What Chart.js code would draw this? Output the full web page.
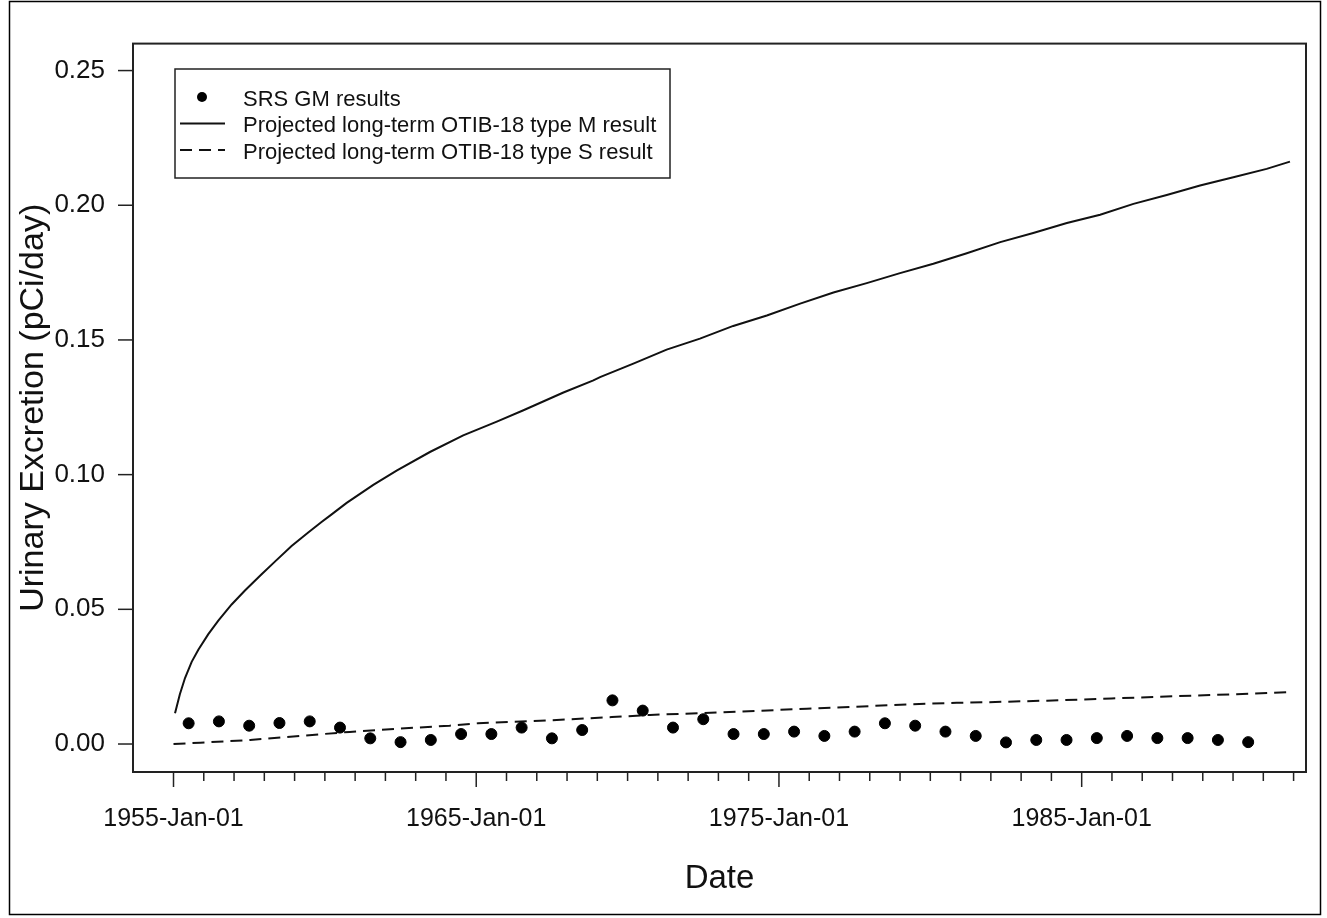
<!DOCTYPE html>
<html>
<head>
<meta charset="utf-8">
<title>Urinary Excretion</title>
<script src="https://cdn.jsdelivr.net/npm/chart.js@4.4.1/dist/chart.umd.min.js"></script>
<style>
  html, body { margin: 0; padding: 0; background: #fff; }
</style>
</head>
<body>
<canvas id="urineChart" width="1327" height="918"></canvas>
<script>
// SRS GM results, one per year (mid-year)
var gmYears = [1955.5, 1956.5, 1957.5, 1958.5, 1959.5, 1960.5, 1961.5, 1962.5, 1963.5, 1964.5,
               1965.5, 1966.5, 1967.5, 1968.5, 1969.5, 1970.5, 1971.5, 1972.5, 1973.5, 1974.5,
               1975.5, 1976.5, 1977.5, 1978.5, 1979.5, 1980.5, 1981.5, 1982.5, 1983.5, 1984.5,
               1985.5, 1986.5, 1987.5, 1988.5, 1989.5, 1990.5];
var gmValues = [0.0077, 0.0084, 0.0068, 0.0078, 0.0084, 0.0061, 0.0021, 0.0007, 0.0015, 0.0037,
                0.0037, 0.0061, 0.0021, 0.0052, 0.0162, 0.0124, 0.0061, 0.0092, 0.0037, 0.0037,
                0.0046, 0.0030, 0.0046, 0.0077, 0.0068, 0.0046, 0.0030, 0.0006, 0.0015, 0.0015,
                0.0022, 0.0030, 0.0022, 0.0022, 0.0015, 0.0007];

// projected type M curve
var typeMYears = [1955.05, 1955.21, 1955.38, 1955.60, 1955.82, 1956.15, 1956.48, 1956.92, 1957.36, 1957.91,
                  1958.35, 1958.90, 1959.45, 1959.90, 1960.17, 1960.72, 1961.60, 1962.37, 1963.47, 1964.57,
                  1965.68, 1966.56, 1967.88, 1968.87, 1969.09, 1970.19, 1971.29, 1972.39, 1973.49, 1974.60,
                  1975.70, 1976.80, 1977.90, 1979.00, 1980.10, 1981.18, 1982.31, 1983.40, 1984.51, 1985.61,
                  1986.71, 1987.81, 1988.91, 1990.01, 1991.11, 1991.88];
var typeMValues = [0.0114, 0.0185, 0.0245, 0.0305, 0.0350, 0.0408, 0.0458, 0.0518, 0.0570, 0.0630,
                   0.0677, 0.0735, 0.0785, 0.0825, 0.0848, 0.0895, 0.0962, 0.1015, 0.1084, 0.1146,
                   0.1197, 0.1239, 0.1305, 0.1350, 0.1362, 0.1412, 0.1464, 0.1505, 0.1552, 0.1591,
                   0.1635, 0.1676, 0.1711, 0.1748, 0.1783, 0.1821, 0.1863, 0.1897, 0.1934, 0.1965,
                   0.2005, 0.2038, 0.2073, 0.2104, 0.2135, 0.2162];

// projected type S curve
var typeSYears = [1955.00, 1955.88, 1957.53, 1959.17, 1960.82, 1962.47, 1964.12, 1965.06, 1967.11, 1969.48,
                  1970.74, 1973.05, 1974.27, 1975.92, 1977.45, 1979.22, 1980.87, 1981.87, 1983.85, 1985.99,
                  1988.18, 1990.12, 1991.88];
var typeSValues = [0.0000, 0.0005, 0.0015, 0.0030, 0.0045, 0.0057, 0.0068, 0.0077, 0.0086, 0.0100,
                   0.0108, 0.0117, 0.0123, 0.0131, 0.0138, 0.0147, 0.0153, 0.0155, 0.0161, 0.0169,
                   0.0178, 0.0185, 0.0193];

var yTicks = [0, 0.05, 0.10, 0.15, 0.20, 0.25];
var xMajorYears = [1955, 1965, 1975, 1985];
var xTickLabels = ['1955-Jan-01', '1965-Jan-01', '1975-Jan-01', '1985-Jan-01'];
var xFirstTick = 1955, xLastTick = 1992;

var FONT = '"Liberation Sans", Arial, Helvetica, sans-serif';
var INK = '#111';

function toXY(xs, ys) {
    var out = [];
    for (var i = 0; i < xs.length; i++) out.push({ x: xs[i], y: ys[i] });
    return out;
}

// box, tick marks, figure frame and the legend in R style
var framePlugin = {
    id: 'frame',
    afterDraw: function (chart) {
        var c = chart.ctx, a = chart.chartArea;
        var xs = chart.scales.x, ys = chart.scales.y;
        c.save();
        c.strokeStyle = '#222';
        c.lineWidth = 2;
        c.strokeRect(a.left, a.top, a.right - a.left, a.bottom - a.top);

        c.lineWidth = 1.5;
        xs.ticks.forEach(function (t) {
            var px = xs.getPixelForValue(t.value);
            var len = xMajorYears.indexOf(t.value) >= 0 ? 15 : 9;
            c.beginPath();
            c.moveTo(px, a.bottom);
            c.lineTo(px, a.bottom + len);
            c.stroke();
        });
        ys.ticks.forEach(function (t) {
            var py = ys.getPixelForValue(t.value);
            c.beginPath();
            c.moveTo(a.left - 15, py);
            c.lineTo(a.left, py);
            c.stroke();
        });

        // figure frame
        c.strokeStyle = '#000';
        c.lineWidth = 1.5;
        c.strokeRect(9.5, 1.5, 1311, 913);

        // legend
        var lx = 175, ly = 69, lw = 495, lh = 109;
        c.lineWidth = 1.5;
        c.strokeStyle = '#222';
        c.strokeRect(lx, ly, lw, lh);
        var rows = [97, 123.5, 150];
        var ds = chart.data.datasets;
        c.font = '22px ' + FONT;
        c.fillStyle = INK;
        c.textBaseline = 'middle';
        c.textAlign = 'left';
        for (var i = 0; i < ds.length; i++) {
            var ry = rows[i];
            if (ds[i].showLine) {
                c.beginPath();
                c.setLineDash(ds[i].borderDash || []);
                c.strokeStyle = ds[i].borderColor;
                c.lineWidth = 2;
                c.moveTo(180, ry);
                c.lineTo(225, ry);
                c.stroke();
                c.setLineDash([]);
            } else {
                c.beginPath();
                c.arc(202, ry, 5, 0, Math.PI * 2);
                c.fillStyle = ds[i].backgroundColor;
                c.fill();
            }
            c.fillStyle = INK;
            c.fillText(ds[i].label, 243, ry + 2.5);
        }
        c.restore();
    }
};

var ctx = document.getElementById('urineChart').getContext('2d');

var chart = new Chart(ctx, {
    type: 'scatter',
    data: {
        datasets: [
            {
                label: 'SRS GM results',
                data: toXY(gmYears, gmValues),
                backgroundColor: '#000',
                borderColor: '#000',
                pointRadius: 5.5,
                pointHoverRadius: 5.5,
                showLine: false
            },
            {
                label: 'Projected long-term OTIB-18 type M result',
                data: toXY(typeMYears, typeMValues),
                borderColor: '#111',
                borderWidth: 2,
                pointRadius: 0,
                showLine: true,
                fill: false
            },
            {
                label: 'Projected long-term OTIB-18 type S result',
                data: toXY(typeSYears, typeSValues),
                borderColor: '#111',
                borderWidth: 2,
                borderDash: [12, 7],
                pointRadius: 0,
                showLine: true,
                fill: false
            }
        ]
    },
    options: {
        responsive: false,
        animation: false,
        devicePixelRatio: 1,
        layout: { padding: { top: 43, right: 21, left: 0, bottom: 0 } },
        plugins: {
            legend: { display: false },
            tooltip: { enabled: false }
        },
        scales: {
            x: {
                type: 'linear',
                min: 1953.662,
                max: 1992.41,
                afterFit: function (s) { s.height = 146; },
                afterBuildTicks: function (s) {
                    var t = [];
                    for (var v = xFirstTick; v <= xLastTick; v++) t.push({ value: v });
                    s.ticks = t;
                },
                ticks: {
                    autoSkip: false,
                    maxRotation: 0,
                    padding: 32,
                    color: INK,
                    font: { family: FONT, size: 25 },
                    callback: function (v) {
                        var i = xMajorYears.indexOf(v);
                        return i >= 0 ? xTickLabels[i] : '';
                    }
                },
                grid: { display: false, drawTicks: false },
                border: { display: false },
                title: {
                    display: true,
                    text: 'Date',
                    color: INK,
                    font: { family: FONT, size: 33 },
                    padding: { top: 0, bottom: 19 }
                }
            },
            y: {
                min: -0.01039,
                max: 0.26001,
                afterFit: function (s) { s.width = 133; },
                afterBuildTicks: function (s) {
                    s.ticks = yTicks.map(function (v) { return { value: v }; });
                },
                ticks: {
                    padding: 28,
                    color: INK,
                    font: { family: FONT, size: 26 },
                    callback: function (v) { return v.toFixed(2); }
                },
                grid: { display: false, drawTicks: false },
                border: { display: false },
                title: {
                    display: true,
                    text: 'Urinary Excretion (pCi/day)',
                    color: INK,
                    font: { family: FONT, size: 34 },
                    padding: { top: 13, bottom: 0 }
                }
            }
        }
    },
    plugins: [framePlugin]
});
</script>
</body>
</html>
